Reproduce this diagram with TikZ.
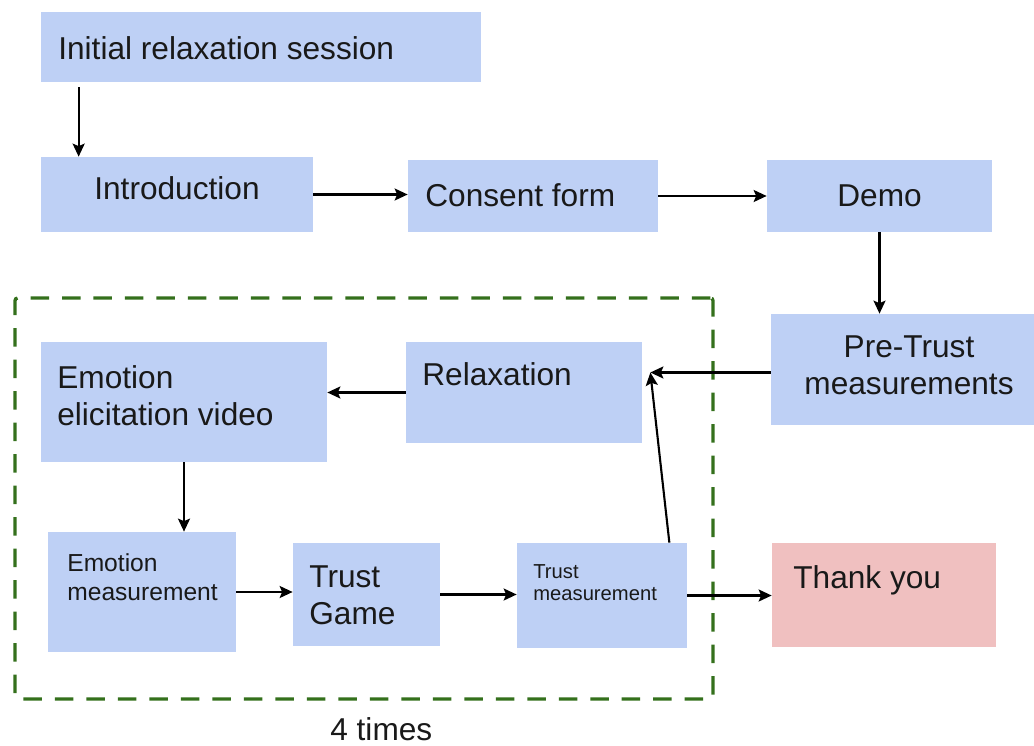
\documentclass[tikz,border=0pt]{standalone}
\usepackage{fontspec}
\setmainfont{Liberation Sans}
\usetikzlibrary{arrows.meta,fit,calc}
\definecolor{boxblue}{RGB}{190,208,245}
\definecolor{boxpink}{RGB}{240,192,192}
\definecolor{loopgreen}{RGB}{52,112,28}
\definecolor{inkgray}{RGB}{25,25,25}
\tikzset{
  box/.style={fill=boxblue, inner sep=0pt},
  endbox/.style={fill=boxpink, inner sep=0pt},
  lbl/.style={anchor=base west, align=left, inner sep=0pt, text=inkgray,
    font=\fontsize{18}{21}\selectfont},
  arr/.style={-{Stealth[length=0.26cm,width=0.24cm,inset=0.05cm]}, line width=1.2pt},
}
\begin{document}
\begin{tikzpicture}[x=0.02cm,y=-0.02cm]
\useasboundingbox (0,0) rectangle (1034,746);
% repeated block
\node[draw=loopgreen, line width=1.9pt, dash pattern=on 0.37cm off 0.26cm,
  rounded corners=1.5pt, inner sep=0pt, fit={(15,298)(713,699)}] (loop) {};
\node[lbl] (times) at (330,740) {4 times};
% boxes
\node[box, fit={(41,12)(481,82)}] (init) {};
\node[box, fit={(41,157)(313,232)}] (intro) {};
\node[box, fit={(408,160)(658,232)}] (consent) {};
\node[box, fit={(767,160)(992,232)}] (demo) {};
\node[box, fit={(771,314)(1034,425)}] (pretrust) {};
\node[box, fit={(41,342)(327,462)}] (elicit) {};
\node[box, fit={(406,342)(642,443)}] (relax) {};
\node[box, fit={(48,532)(236,652)}] (emomeas) {};
\node[box, fit={(293,543)(440,646)}] (game) {};
\node[box, fit={(517,543)(687,648)}] (trustmeas) {};
\node[endbox, fit={(772,543)(996,647)}] (thanks) {};
% labels (multi-line ones sit on their last line)
\node[lbl] (initT) at (58,60) {Initial relaxation session};
\node[lbl] (introT) at (94,200) {Introduction};
\node[lbl] (consentT) at (425,207) {Consent form};
\node[lbl] (demoT) at (837,207) {Demo};
\node[lbl, anchor=base, align=center, font=\fontsize{18}{21.3}\selectfont] (pretrustT) at (909,395) {Pre-Trust\\measurements};
\node[lbl] (elicitT) at (57,425) {Emotion\\elicitation video};
\node[lbl] (relaxT) at (422,385) {Relaxation};
\node[lbl, font=\fontsize{14}{16.5}\selectfont] (emomeasT) at (67,600) {Emotion\\measurement};
\node[lbl, font=\fontsize{18}{20.5}\selectfont] (gameT) at (309,624) {Trust\\Game};
\node[lbl, font=\fontsize{11.5}{12}\selectfont] (trustmeasT) at (533,600) {Trust\\measurement};
\node[lbl] (thanksT) at (793,588) {Thank you};
% arrows
\coordinate (relin) at ($(relax.east)+(8,-20)$);
\draw[arr] ($(init.south west)+(38,5)$) -- ($(intro.north west)+(38,0)$);
\draw[arr] (intro.east) -- (intro.east -| consent.west);
\draw[arr] (consent.east) -- (consent.east -| demo.west);
\draw[arr] (demo.south) -- (demo.south |- pretrust.north);
\draw[arr] (pretrust.west |- relin) -- (relin);
\draw[arr] ($(trustmeas.north east)+(-18,0)$) -- (relin);
\draw[arr] (relax.west) -- (relax.west -| elicit.east);
\draw[arr] (elicit.south) -- (elicit.south |- emomeas.north);
\draw[arr] (emomeas.east) -- (emomeas.east -| game.west);
\draw[arr] (game.east) -- (game.east -| trustmeas.west);
\draw[arr] (trustmeas.east) -- (trustmeas.east -| thanks.west);
\end{tikzpicture}
\end{document}
